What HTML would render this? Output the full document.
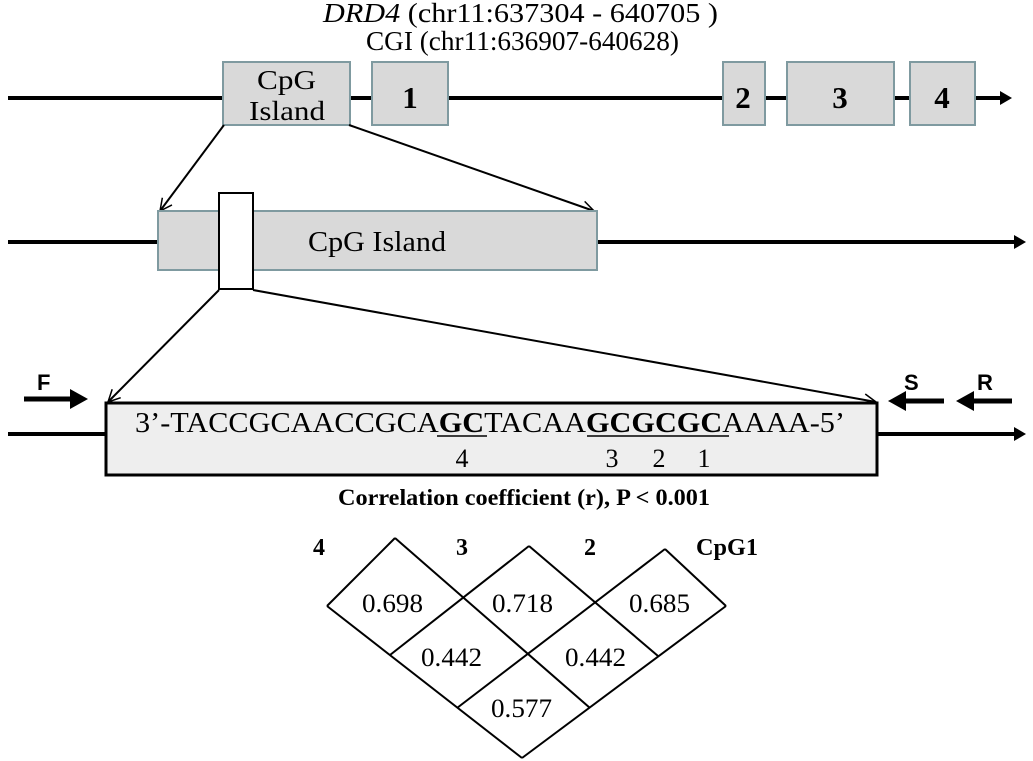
<!DOCTYPE html>
<html><head><meta charset="utf-8"><style>
body{margin:0;background:#fff}
svg{display:block}
text{font-family:"Liberation Serif",serif;fill:#000}
</style></head><body>
<svg width="1033" height="761" viewBox="0 0 1033 761" xmlns="http://www.w3.org/2000/svg">
<defs>
<marker id="oh" markerWidth="14" markerHeight="14" refX="13" refY="7" orient="auto" markerUnits="userSpaceOnUse"><path d="M1,1 L13,7 L1,13" fill="none" stroke="#000" stroke-width="1.5"/></marker>
</defs>
<text x="323" y="22" font-size="27" textLength="395" lengthAdjust="spacingAndGlyphs"><tspan font-style="italic">DRD4</tspan> (chr11:637304 - 640705 )</text>
<text x="366" y="50" font-size="27" textLength="313" lengthAdjust="spacingAndGlyphs">CGI (chr11:636907-640628)</text>
<line x1="8" y1="98" x2="1008" y2="98" stroke="#000" stroke-width="4"/>
<path d="M1000,91 L1012,98 L1000,105 Z"/>
<g fill="#d9d9d9" stroke="#7f9aa0" stroke-width="2">
<rect x="223" y="62" width="127" height="63"/>
<rect x="372" y="62" width="76" height="63"/>
<rect x="723" y="62" width="42" height="63"/>
<rect x="787" y="62" width="107" height="63"/>
<rect x="910" y="62" width="65" height="63"/>
</g>
<text x="257" y="89" font-size="27" textLength="59" lengthAdjust="spacingAndGlyphs">CpG</text>
<text x="249" y="120" font-size="27" textLength="76" lengthAdjust="spacingAndGlyphs">Island</text>
<g font-size="31" font-weight="bold" text-anchor="middle">
<text x="410" y="108">1</text><text x="743" y="108">2</text><text x="840" y="108">3</text><text x="942" y="108">4</text>
</g>
<line x1="224" y1="125" x2="160" y2="211" stroke="#000" stroke-width="2" marker-end="url(#oh)"/>
<line x1="349" y1="125" x2="594" y2="211" stroke="#000" stroke-width="2" marker-end="url(#oh)"/>
<line x1="8" y1="242" x2="1018" y2="242" stroke="#000" stroke-width="4"/>
<path d="M1014,235 L1026,242 L1014,249 Z"/>
<rect x="158" y="211" width="439" height="59" fill="#d9d9d9" stroke="#7f9aa0" stroke-width="2"/>
<text x="308" y="251" font-size="28" textLength="138" lengthAdjust="spacingAndGlyphs">CpG Island</text>
<rect x="219" y="193" width="34" height="96" fill="#fff" stroke="#000" stroke-width="2"/>
<line x1="219" y1="290" x2="108" y2="402" stroke="#000" stroke-width="2" marker-end="url(#oh)"/>
<line x1="253" y1="290" x2="876" y2="402" stroke="#000" stroke-width="2" marker-end="url(#oh)"/>
<line x1="8" y1="434" x2="1018" y2="434" stroke="#000" stroke-width="4"/>
<path d="M1014,427 L1026,434 L1014,441 Z"/>
<rect x="106" y="403" width="771" height="72" fill="#eeeeee" stroke="#000" stroke-width="3"/>
<text x="135" y="432" font-size="29" textLength="710" lengthAdjust="spacingAndGlyphs">3’-TACCGCAACCGCA<tspan font-weight="bold">GC</tspan>TACAA<tspan font-weight="bold">GCGCGC</tspan>AAAA-5’</text>
<line x1="437" y1="436" x2="487" y2="436" stroke="#000" stroke-width="1.5"/>
<line x1="587" y1="436" x2="729" y2="436" stroke="#000" stroke-width="1.5"/>
<g font-size="26" text-anchor="middle">
<text x="462" y="467">4</text><text x="612" y="467">3</text><text x="659" y="467">2</text><text x="704" y="467">1</text>
</g>
<g font-weight="bold" font-size="22">
<text x="37" y="390" style="font-family:'Liberation Sans',sans-serif">F</text>
<text x="904" y="390" style="font-family:'Liberation Sans',sans-serif">S</text>
<text x="977" y="390" style="font-family:'Liberation Sans',sans-serif">R</text>
</g>
<line x1="24" y1="399" x2="74" y2="399" stroke="#000" stroke-width="5"/>
<path d="M70,389 L88,399 L70,409 Z"/>
<line x1="903" y1="401" x2="944" y2="401" stroke="#000" stroke-width="5"/>
<path d="M906,391 L888,401 L906,411 Z"/>
<line x1="972" y1="401" x2="1012" y2="401" stroke="#000" stroke-width="5"/>
<path d="M974,391 L956,401 L974,411 Z"/>
<text x="524" y="505" font-size="23" font-weight="bold" text-anchor="middle" textLength="372" lengthAdjust="spacingAndGlyphs">Correlation coefficient (r), P &lt; 0.001</text>
<g font-size="24" font-weight="bold">
<text x="313" y="555">4</text><text x="456" y="555">3</text><text x="584" y="555">2</text><text x="696" y="555" textLength="62" lengthAdjust="spacingAndGlyphs">CpG1</text>
</g>
<g stroke="#000" stroke-width="2" fill="none">
<line x1="327" y1="606" x2="522" y2="758"/>
<line x1="395" y1="538" x2="590" y2="708"/>
<line x1="529" y1="546" x2="658" y2="656"/>
<line x1="665" y1="549" x2="726" y2="606"/>
<line x1="327" y1="606" x2="395" y2="538"/>
<line x1="390" y1="655" x2="529" y2="546"/>
<line x1="457" y1="708" x2="665" y2="549"/>
<line x1="522" y1="758" x2="726" y2="606"/>
</g>
<g font-size="26">
<text x="362" y="612" textLength="61" lengthAdjust="spacingAndGlyphs">0.698</text>
<text x="492" y="612" textLength="61" lengthAdjust="spacingAndGlyphs">0.718</text>
<text x="629" y="612" textLength="61" lengthAdjust="spacingAndGlyphs">0.685</text>
<text x="421" y="666" textLength="61" lengthAdjust="spacingAndGlyphs">0.442</text>
<text x="565" y="666" textLength="61" lengthAdjust="spacingAndGlyphs">0.442</text>
<text x="491" y="717" textLength="61" lengthAdjust="spacingAndGlyphs">0.577</text>
</g>
</svg>
</body></html>
